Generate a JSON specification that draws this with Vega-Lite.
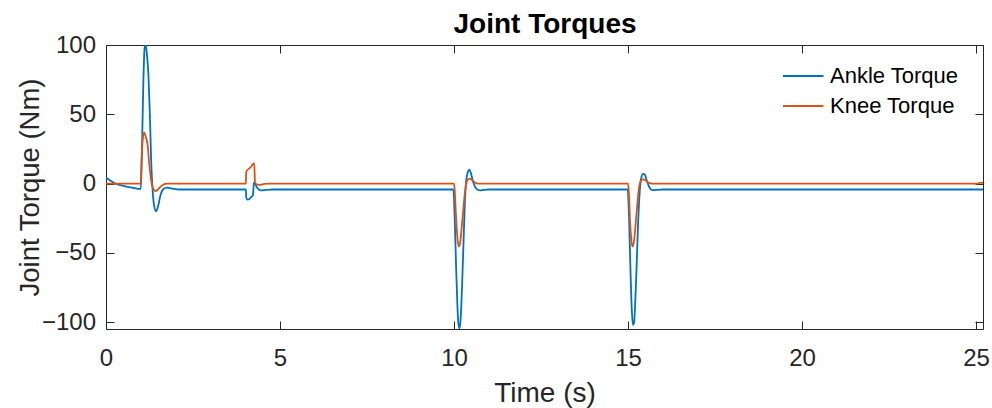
{
  "$schema": "https://vega.github.io/schema/vega-lite/v6.json",
  "autosize": "none",
  "width": 877,
  "height": 284,
  "padding": {"left": 106, "top": 45, "right": 9, "bottom": 79},
  "background": "white",
  "config": {
    "font": "Liberation Sans",
    "view": {"stroke": null},
    "axis": {"domainColor": "#262626", "tickColor": "#262626", "labelColor": "#262626", "titleColor": "#262626", "grid": false, "labelFont": "Liberation Sans", "titleFont": "Liberation Sans", "titleFontWeight": "normal"}
  },
  "data": {"values": [
    {"t":0,"v":4.3,"s":"Ankle Torque"},{"t":0.1,"v":2.6,"s":"Ankle Torque"},{"t":0.26,"v":0,"s":"Ankle Torque"},{"t":0.5,"v":-1.6,"s":"Ankle Torque"},{"t":0.75,"v":-2.9,"s":"Ankle Torque"},{"t":1.0,"v":-3.9,"s":"Ankle Torque"},{"t":1.03,"v":20,"s":"Ankle Torque"},{"t":1.07,"v":70,"s":"Ankle Torque"},{"t":1.11,"v":98,"s":"Ankle Torque"},{"t":1.14,"v":100,"s":"Ankle Torque"},{"t":1.18,"v":92,"s":"Ankle Torque"},{"t":1.22,"v":78,"s":"Ankle Torque"},{"t":1.26,"v":50,"s":"Ankle Torque"},{"t":1.3,"v":15,"s":"Ankle Torque"},{"t":1.34,"v":-5,"s":"Ankle Torque"},{"t":1.39,"v":-17,"s":"Ankle Torque"},{"t":1.44,"v":-20,"s":"Ankle Torque"},{"t":1.5,"v":-16,"s":"Ankle Torque"},{"t":1.56,"v":-9,"s":"Ankle Torque"},{"t":1.65,"v":-4,"s":"Ankle Torque"},{"t":1.75,"v":-3,"s":"Ankle Torque"},{"t":1.9,"v":-3.6,"s":"Ankle Torque"},{"t":2.1,"v":-4.3,"s":"Ankle Torque"},{"t":4.02,"v":-4.3,"s":"Ankle Torque"},{"t":4.03,"v":-10,"s":"Ankle Torque"},{"t":4.06,"v":-11.6,"s":"Ankle Torque"},{"t":4.1,"v":-11.5,"s":"Ankle Torque"},{"t":4.16,"v":-10,"s":"Ankle Torque"},{"t":4.22,"v":-8.5,"s":"Ankle Torque"},{"t":4.25,"v":0,"s":"Ankle Torque"},{"t":4.27,"v":1,"s":"Ankle Torque"},{"t":4.32,"v":-2,"s":"Ankle Torque"},{"t":4.38,"v":-4,"s":"Ankle Torque"},{"t":4.45,"v":-5,"s":"Ankle Torque"},{"t":4.6,"v":-4.6,"s":"Ankle Torque"},{"t":4.8,"v":-4.3,"s":"Ankle Torque"},{"t":9.98,"v":-4.3,"s":"Ankle Torque"},{"t":10.02,"v":-25,"s":"Ankle Torque"},{"t":10.06,"v":-60,"s":"Ankle Torque"},{"t":10.1,"v":-90,"s":"Ankle Torque"},{"t":10.13,"v":-102,"s":"Ankle Torque"},{"t":10.16,"v":-104.5,"s":"Ankle Torque"},{"t":10.19,"v":-98,"s":"Ankle Torque"},{"t":10.23,"v":-75,"s":"Ankle Torque"},{"t":10.27,"v":-45,"s":"Ankle Torque"},{"t":10.31,"v":-15,"s":"Ankle Torque"},{"t":10.35,"v":2,"s":"Ankle Torque"},{"t":10.4,"v":8.5,"s":"Ankle Torque"},{"t":10.44,"v":10,"s":"Ankle Torque"},{"t":10.48,"v":8,"s":"Ankle Torque"},{"t":10.53,"v":3,"s":"Ankle Torque"},{"t":10.6,"v":-2,"s":"Ankle Torque"},{"t":10.68,"v":-4.5,"s":"Ankle Torque"},{"t":10.75,"v":-5,"s":"Ankle Torque"},{"t":10.85,"v":-4.6,"s":"Ankle Torque"},{"t":11.0,"v":-4.3,"s":"Ankle Torque"},{"t":14.99,"v":-4.3,"s":"Ankle Torque"},{"t":15.03,"v":-25,"s":"Ankle Torque"},{"t":15.07,"v":-62,"s":"Ankle Torque"},{"t":15.11,"v":-92,"s":"Ankle Torque"},{"t":15.14,"v":-102,"s":"Ankle Torque"},{"t":15.17,"v":-101,"s":"Ankle Torque"},{"t":15.2,"v":-90,"s":"Ankle Torque"},{"t":15.24,"v":-65,"s":"Ankle Torque"},{"t":15.28,"v":-35,"s":"Ankle Torque"},{"t":15.33,"v":-8,"s":"Ankle Torque"},{"t":15.38,"v":4,"s":"Ankle Torque"},{"t":15.43,"v":7,"s":"Ankle Torque"},{"t":15.48,"v":6.5,"s":"Ankle Torque"},{"t":15.54,"v":2,"s":"Ankle Torque"},{"t":15.62,"v":-3,"s":"Ankle Torque"},{"t":15.7,"v":-4.8,"s":"Ankle Torque"},{"t":15.8,"v":-4.6,"s":"Ankle Torque"},{"t":16.0,"v":-4.3,"s":"Ankle Torque"},{"t":25.2,"v":-4.3,"s":"Ankle Torque"},
    {"t":0,"v":0,"s":"Knee Torque"},{"t":1.0,"v":0,"s":"Knee Torque"},{"t":1.02,"v":15,"s":"Knee Torque"},{"t":1.06,"v":33,"s":"Knee Torque"},{"t":1.1,"v":37,"s":"Knee Torque"},{"t":1.14,"v":34,"s":"Knee Torque"},{"t":1.2,"v":27,"s":"Knee Torque"},{"t":1.24,"v":15,"s":"Knee Torque"},{"t":1.3,"v":2,"s":"Knee Torque"},{"t":1.36,"v":-4,"s":"Knee Torque"},{"t":1.43,"v":-5.5,"s":"Knee Torque"},{"t":1.5,"v":-4,"s":"Knee Torque"},{"t":1.6,"v":-1.5,"s":"Knee Torque"},{"t":1.75,"v":0,"s":"Knee Torque"},{"t":4.02,"v":0,"s":"Knee Torque"},{"t":4.03,"v":8.5,"s":"Knee Torque"},{"t":4.1,"v":10.5,"s":"Knee Torque"},{"t":4.18,"v":12.5,"s":"Knee Torque"},{"t":4.24,"v":14.5,"s":"Knee Torque"},{"t":4.26,"v":14.5,"s":"Knee Torque"},{"t":4.28,"v":1,"s":"Knee Torque"},{"t":4.32,"v":-0.5,"s":"Knee Torque"},{"t":4.42,"v":-1,"s":"Knee Torque"},{"t":4.55,"v":-0.3,"s":"Knee Torque"},{"t":4.7,"v":0,"s":"Knee Torque"},{"t":10.0,"v":0,"s":"Knee Torque"},{"t":10.02,"v":-5,"s":"Knee Torque"},{"t":10.06,"v":-25,"s":"Knee Torque"},{"t":10.1,"v":-40,"s":"Knee Torque"},{"t":10.14,"v":-45.5,"s":"Knee Torque"},{"t":10.18,"v":-42,"s":"Knee Torque"},{"t":10.22,"v":-32,"s":"Knee Torque"},{"t":10.27,"v":-18,"s":"Knee Torque"},{"t":10.32,"v":-5,"s":"Knee Torque"},{"t":10.37,"v":1.5,"s":"Knee Torque"},{"t":10.44,"v":3.6,"s":"Knee Torque"},{"t":10.52,"v":2.5,"s":"Knee Torque"},{"t":10.6,"v":0.8,"s":"Knee Torque"},{"t":10.7,"v":0,"s":"Knee Torque"},{"t":15.0,"v":0,"s":"Knee Torque"},{"t":15.02,"v":-5,"s":"Knee Torque"},{"t":15.06,"v":-28,"s":"Knee Torque"},{"t":15.1,"v":-42,"s":"Knee Torque"},{"t":15.13,"v":-45.5,"s":"Knee Torque"},{"t":15.17,"v":-42,"s":"Knee Torque"},{"t":15.21,"v":-32,"s":"Knee Torque"},{"t":15.26,"v":-17,"s":"Knee Torque"},{"t":15.31,"v":-4,"s":"Knee Torque"},{"t":15.37,"v":2,"s":"Knee Torque"},{"t":15.44,"v":3,"s":"Knee Torque"},{"t":15.52,"v":2,"s":"Knee Torque"},{"t":15.6,"v":0.5,"s":"Knee Torque"},{"t":15.7,"v":0,"s":"Knee Torque"},{"t":25.05,"v":0,"s":"Knee Torque"},{"t":25.1,"v":0.5,"s":"Knee Torque"},{"t":25.2,"v":0.5,"s":"Knee Torque"}
  ]},
  "resolve": {"axis": {"x": "independent", "y": "independent"}},
  "layer": [
    {
      "mark": {"type": "line", "strokeWidth": 1.8, "clip": true, "interpolate": "monotone"},
      "encoding": {
        "x": {"field": "t", "type": "quantitative", "scale": {"domain": [0, 25.2], "nice": false, "zero": false},
          "axis": {"orient": "bottom", "title": "Time (s)", "values": [0, 5, 10, 15, 20, 25], "tickSize": -8, "labelPadding": 44, "labelBaseline": "alphabetic", "labelFontSize": 24, "labelFlush": false, "titleFontSize": 28, "titleX": 438.5, "titleY": 72.7, "titleBaseline": "alphabetic", "titleAnchor": "middle", "domainWidth": 1}},
        "y": {"field": "v", "type": "quantitative", "scale": {"domain": [-105, 100], "nice": false, "zero": false},
          "axis": {"orient": "left", "title": "Joint Torque (Nm)", "values": [-100, -50, 0, 50, 100], "tickSize": -8, "labelPadding": 18.5, "labelBaseline": "middle", "labelFontSize": 24, "labelFlush": false, "titleFontSize": 27.5, "titleX": -68, "titleY": 142, "titleAngle": -90, "titleBaseline": "alphabetic", "titleAnchor": "middle", "domainWidth": 1}},
        "color": {"field": "s", "type": "nominal", "scale": {"domain": ["Ankle Torque", "Knee Torque"], "range": ["#0072BD", "#D95319"]},
          "legend": {"orient": "none", "legendX": 677, "legendY": 16, "title": null, "symbolType": "M-1.5,0H1.5", "symbolSize": 980, "symbolStrokeWidth": 1.8, "labelFontSize": 22, "labelFont": "Liberation Sans", "labelColor": "black", "labelOffset": 13, "rowPadding": 0, "clipHeight": 30, "padding": 0}}
      }
    },
    {
      "mark": {"type": "line", "opacity": 0},
      "encoding": {
        "x": {"field": "t", "type": "quantitative", "axis": {"orient": "top", "title": "Joint Torques", "titleFontSize": 28, "titleFontWeight": "bold", "titleColor": "black", "titleX": 438.5, "titleY": -13, "titleBaseline": "alphabetic", "titleAnchor": "middle", "labels": false, "values": [0, 5, 10, 15, 20, 25], "tickSize": -8, "domainWidth": 1}},
        "y": {"field": "v", "type": "quantitative", "axis": {"orient": "right", "title": null, "labels": false, "values": [-100, -50, 0, 50, 100], "tickSize": -8, "domainWidth": 1}}
      }
    }
  ]
}
